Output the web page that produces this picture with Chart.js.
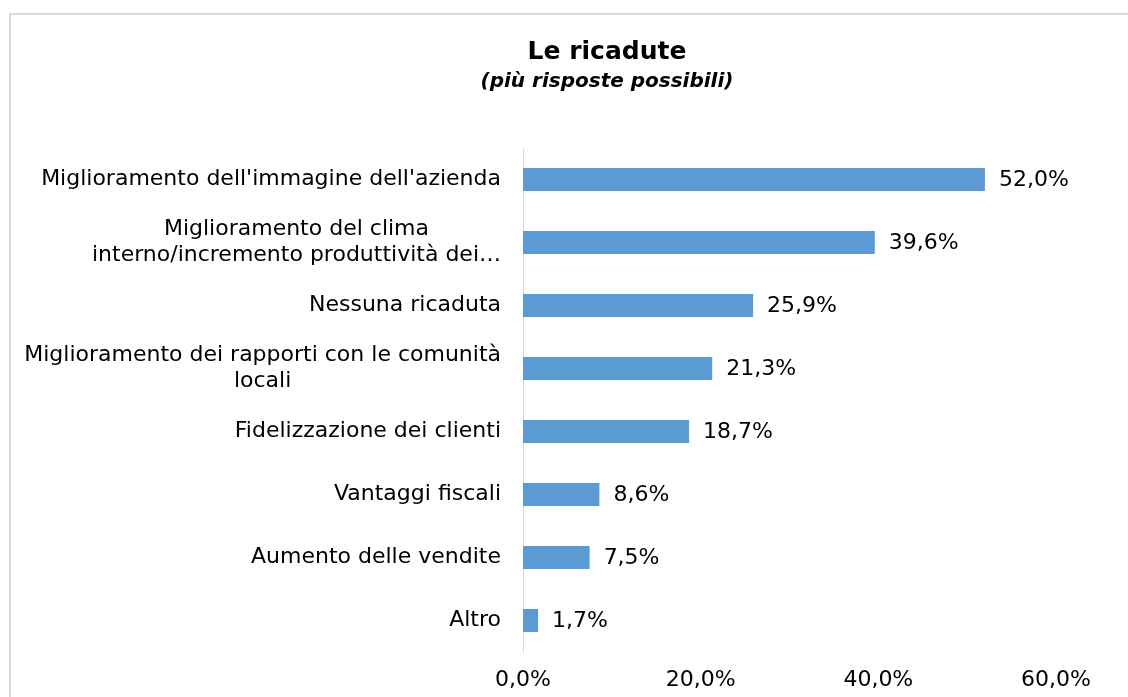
<!DOCTYPE html>
<html>
<head>
<meta charset="utf-8">
<script src="https://cdn.jsdelivr.net/npm/chart.js@4.4.0/dist/chart.umd.min.js"></script>
<style>
html, body { margin: 0; padding: 0; background: #fff; overflow: hidden; }
#box { position: absolute; left: 9px; top: 13px; width: 1200px; height: 700px;
       border-top: 2px solid #d9d9d9; border-left: 2px solid #d9d9d9; }
</style>
</head>
<body>
<div id="box"><canvas id="chart" width="1192" height="682"></canvas></div>
<script>
// dati
const categories = [
    ["Miglioramento dell'immagine dell'azienda"],
    ["Miglioramento del clima", "interno/incremento produttività dei…"],
    ["Nessuna ricaduta"],
    ["Miglioramento dei rapporti con le comunità", "locali"],
    ["Fidelizzazione dei clienti"],
    ["Vantaggi fiscali"],
    ["Aumento delle vendite"],
    ["Altro"]
]
const values = [52.0, 39.6, 25.9, 21.3, 18.7, 8.6, 7.5, 1.7]
const xMin = 0
const xMax = 60
const xStep = 20

const FONT = 'DejaVu Sans'
Chart.defaults.font.family = FONT
Chart.defaults.color = '#000'

function pct(v) {
    return v.toFixed(1).replace('.', ',') + '%'
}

// etichette: categorie centrate a blocco, valori a destra delle barre
const labelsPlugin = {
    id: 'labels',
    afterDraw(chart) {
        const ctx = chart.ctx
        const yScale = chart.scales.y
        const meta = chart.getDatasetMeta(0)
        ctx.save()
        ctx.font = '22px ' + FONT
        ctx.fillStyle = '#000'
        ctx.textBaseline = 'middle'

        // categorie
        const right = yScale.right - 22
        const lh = 26
        categories.forEach((lines, i) => {
            const yc = yScale.getPixelForTick(i)
            let w = 0
            lines.forEach(l => { w = Math.max(w, ctx.measureText(l).width) })
            const cx = right - w / 2
            ctx.textAlign = 'center'
            lines.forEach((l, k) => {
                const y = yc + (k - (lines.length - 1) / 2) * lh
                ctx.fillText(l, cx, y)
            })
        })

        // valori
        ctx.textAlign = 'left'
        meta.data.forEach((bar, i) => {
            ctx.fillText(pct(values[i]), bar.x + 14, bar.y + 1)
        })
        ctx.restore()
    }
}

const data = {
    labels: categories.map(c => c.join(' ')),
    datasets: [{
        data: values,
        backgroundColor: '#5b9bd5',
        borderWidth: 0,
        categoryPercentage: 1,
        barPercentage: 0.365
    }]
}

const config = {
    type: 'bar',
    data: data,
    options: {
        indexAxis: 'y',
        responsive: false,
        animation: false,
        layout: { padding: 0 },
        plugins: {
            legend: { display: false },
            tooltip: { enabled: false },
            title: {
                display: true,
                text: 'Le ricadute',
                font: { size: 25, weight: 'bold' },
                color: '#000',
                padding: { top: 22, bottom: 2 }
            },
            subtitle: {
                display: true,
                text: '(più risposte possibili)',
                font: { size: 20, weight: 'bold', style: 'italic' },
                color: '#000',
                padding: { top: 1, bottom: 54 }
            }
        },
        scales: {
            x: {
                min: xMin,
                max: xMax,
                grid: { display: false },
                border: { display: false },
                ticks: {
                    stepSize: xStep,
                    padding: 7,
                    font: { size: 22 },
                    color: '#000',
                    callback: v => pct(v)
                },
                afterFit: s => { s.height = 45 }
            },
            y: {
                grid: { display: false },
                border: { display: true, color: '#d9d9d9', width: 1 },
                ticks: { display: false },
                afterFit: s => { s.width = 512 }
            },
            // spazio vuoto a destra, così il titolo resta centrato sul riquadro
            yRight: {
                type: 'linear',
                position: 'right',
                grid: { display: false },
                border: { display: false },
                ticks: { display: false },
                afterFit: s => { s.width = 147 }
            }
        }
    },
    plugins: [labelsPlugin]
}

let ctx = document.getElementById('chart').getContext('2d')
new Chart(ctx, config)
</script>
</body>
</html>
